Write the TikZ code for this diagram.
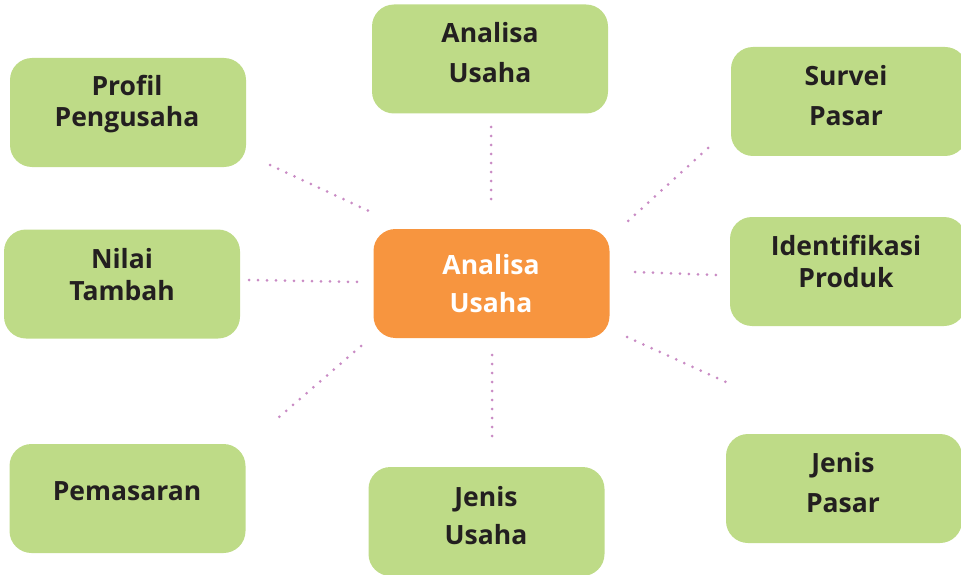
\documentclass[tikz,border=0pt]{standalone}
\usepackage{fontspec}
\setmainfont{Open Sans}
\begin{document}
\begin{tikzpicture}[x=1pt,y=-1pt,
  box/.style={draw=none,fill=boxgreen,rounded corners=22pt,minimum width=236pt,minimum height=109pt,inner sep=0pt},
  hub/.style={box,fill=huborange},
  lbl/.style={font=\fontsize{26.5}{#1}\selectfont\bfseries,text=textdark,align=center,inner sep=0pt},
  lbl/.default=40,
  link/.style={draw=dotpink,line width=3pt,line cap=round,dash pattern=on 0pt off 9pt}]
\definecolor{boxgreen}{HTML}{BEDB87}
\definecolor{huborange}{HTML}{F7953F}
\definecolor{textdark}{HTML}{231F20}
\definecolor{dotpink}{HTML}{C98BC4}
\useasboundingbox (0,0) rectangle (961,575);
\begin{scope}
\clip (0,0) rectangle (961,575);
% rounded boxes
\node[hub] (hub) at (491.5,283.5) {};
\node[box] (analisa) at (490,59) {};
\node[box] (profil) at (128,112.5) {};
\node[box] (survei) at (849,101.5) {};
\node[box] (nilai) at (122,284) {};
\node[box] (identifikasi) at (848,271.5) {};
\node[box] (pemasaran) at (127.5,498.5) {};
\node[box] (jenisusaha) at (486.5,521.5) {};
\node[box] (jenispasar) at (844,488.5) {};
% box captions
\node[lbl=38,text=white] (hub-t) at (491,284) {Analisa\\Usaha};
\node[lbl=40] (analisa-t) at (490,53) {Analisa\\Usaha};
\node[lbl=31] (profil-t) at (127,104) {Profil\\Pengusaha};
\node[lbl=40] (survei-t) at (846,96) {Survei\\Pasar};
\node[lbl=32] (nilai-t) at (122,274.5) {Nilai\\Tambah};
\node[lbl=32] (identifikasi-t) at (846,261.5) {Identifikasi\\Produk};
\node[lbl] (pemasaran-t) at (127,491) {Pemasaran};
\node[lbl=38] (jenisusaha-t) at (486,516) {Jenis\\Usaha};
\node[lbl=40] (jenispasar-t) at (843,483) {Jenis\\Pasar};
\end{scope}
% dotted spokes
\coordinate (p1) at (270,165); \coordinate (p2) at (371,212);
\coordinate (a1) at (491,127); \coordinate (a2) at (491,205);
\coordinate (s1) at (708,148); \coordinate (s2) at (627,222);
\coordinate (n1) at (249,280); \coordinate (n2) at (361,282);
\coordinate (i1) at (635,272); \coordinate (i2) at (716,275);
\coordinate (m1) at (361,346); \coordinate (m2) at (278,418);
\coordinate (u1) at (492,355); \coordinate (u2) at (492,443);
\coordinate (j1) at (627,337); \coordinate (j2) at (728,383);
\draw[link] (p1) -- (p2);
\draw[link] (a1) -- (a2);
\draw[link] (s1) -- (s2);
\draw[link] (n1) -- (n2);
\draw[link] (i1) -- (i2);
\draw[link] (m1) -- (m2);
\draw[link] (u1) -- (u2);
\draw[link] (j1) -- (j2);
\end{tikzpicture}
\end{document}
